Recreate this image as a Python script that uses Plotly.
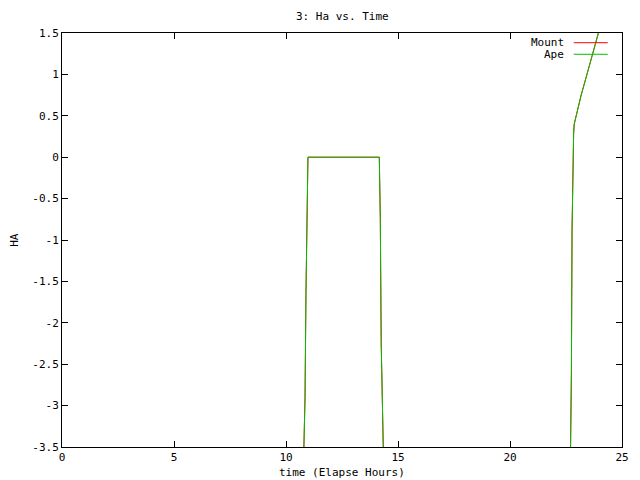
import plotly.graph_objects as go

# Data (elapsed hours vs HA)
ape_time = [10.79, 10.85, 10.89, 10.93, 10.96, 10.98, 14.165, 14.21, 14.25, 14.30, 14.34, 14.35, None,
            22.70, 22.74, 22.77, 22.81, 22.84, 22.87, 23.17, 23.50, 23.94, 23.97]
ape_ha = [-3.6, -2.9, -1.66, -0.8, -0.26, 0.0, 0.0, -0.74, -2.24, -3.13, -3.38, -3.6, None,
          -3.6, -2.63, -0.88, 0.08, 0.28, 0.40, 0.74, 1.06, 1.47, 1.52]
mount_time = [10.79, 10.85, 10.89, 10.93, 10.96, 10.98, 14.165, 14.21, 14.25, 14.30, 14.34, 14.35, None,
              22.70, 22.74, 22.77, 22.81, 22.84, 22.865, 23.165, 23.495, 23.935, 23.965]
mount_ha = ape_ha[:]

x_ticks = [0, 5, 10, 15, 20, 25]
y_ticks = [-3.5, -3, -2.5, -2, -1.5, -1, -0.5, 0, 0.5, 1, 1.5]
y_tick_labels = ["-3.5", "-3", "-2.5", "-2", "-1.5", "-1", "-0.5", "0", "0.5", "1", "1.5"]

RED = "#ff0000"
GREEN = "#00c000"
FONT = "DejaVu Sans Mono"
FS = 11

fig = go.Figure()
fig.add_trace(go.Scatter(x=mount_time, y=mount_ha, mode="lines", name="Mount",
                         line=dict(color=RED, width=1), connectgaps=False, showlegend=False))
fig.add_trace(go.Scatter(x=ape_time, y=ape_ha, mode="lines", name="Ape",
                         line=dict(color=GREEN, width=1), connectgaps=False, showlegend=False))

axis_common = dict(showline=True, linecolor="black", linewidth=1, mirror="ticks",
                   ticks="inside", ticklen=6, tickcolor="black", tickwidth=1,
                   showgrid=False, zeroline=False,
                   tickfont=dict(family=FONT, size=FS, color="black"))

fig.update_xaxes(range=[0, 25], tickvals=x_ticks, **axis_common)
fig.update_yaxes(range=[-3.5, 1.5], tickvals=y_ticks, ticktext=y_tick_labels, **axis_common)

annotations = [
    dict(text="3: Ha vs. Time", xref="paper", yref="paper", x=0.5, y=1.041,
         showarrow=False, xanchor="center", yanchor="middle",
         font=dict(family=FONT, size=FS, color="black")),
    dict(text="time (Elapse Hours)", xref="paper", yref="paper", x=0.5, y=-0.0628,
         showarrow=False, xanchor="center", yanchor="middle",
         font=dict(family=FONT, size=FS, color="black")),
    dict(text="HA", xref="paper", yref="paper", x=-0.086, y=0.5, textangle=-90,
         showarrow=False, xanchor="center", yanchor="middle",
         font=dict(family=FONT, size=FS, color="black")),
    dict(text="Mount", xref="paper", yref="paper", x=0.9, y=0.9766,
         showarrow=False, xanchor="right", yanchor="middle",
         font=dict(family=FONT, size=FS, color="black")),
    dict(text="Ape", xref="paper", yref="paper", x=0.9, y=0.9486,
         showarrow=False, xanchor="right", yanchor="middle",
         font=dict(family=FONT, size=FS, color="black")),
]
shapes = [
    dict(type="line", xref="paper", yref="paper", x0=0.9138, x1=0.9745, y0=0.9766, y1=0.9766,
         line=dict(color=RED, width=1)),
    dict(type="line", xref="paper", yref="paper", x0=0.9138, x1=0.9745, y0=0.9486, y1=0.9486,
         line=dict(color=GREEN, width=1)),
]

fig.update_layout(width=640, height=480, margin=dict(l=54, r=26, t=25, b=41),
                  plot_bgcolor="white", paper_bgcolor="white",
                  annotations=annotations, shapes=shapes, showlegend=False)

fig.write_html("out.html")
